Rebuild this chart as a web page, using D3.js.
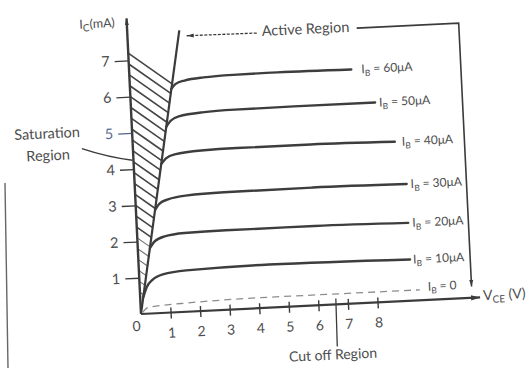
<!DOCTYPE html>
<html>
<head>
<meta charset="utf-8">
<script src="https://cdn.jsdelivr.net/npm/d3@7"></script>
<style>
  html, body { margin: 0; padding: 0; background: #fff; }
  svg { display: block; }
  text { font-family: Lato, "Open Sans", sans-serif; fill: #4d4d4d; }
</style>
</head>
<body>
<svg id="chart" width="529" height="368"></svg>
<script>
// Common-emitter transistor output characteristics: Ic (mA) against Vce (V)

const xTickValues = [1, 2, 3, 4, 5, 6, 7, 8];
const yTickValues = [1, 2, 3, 4, 5, 6, 7];

const ibLabels = ["60μA", "50μA", "40μA", "30μA", "20μA", "10μA"];

const vceIb60 = [1.39, 1.55, 1.85, 2.5, 3.5, 5.0, 7.5];
const icIb60  = [6.15, 6.29, 6.37, 6.43, 6.46, 6.47, 6.45];
const vceIb50 = [1.16, 1.32, 1.6, 2.4, 3.5, 5.5, 8.25];
const icIb50  = [5.12, 5.28, 5.39, 5.47, 5.50, 5.51, 5.51];
const vceIb40 = [0.93, 1.10, 1.4, 2.3, 3.5, 6.0, 8.85];
const icIb40  = [4.10, 4.25, 4.35, 4.42, 4.44, 4.44, 4.40];
const vceIb30 = [0.65, 0.80, 1.1, 1.7, 3.0, 6.0, 9.18];
const icIb30  = [2.85, 3.01, 3.12, 3.20, 3.24, 3.25, 3.22];
const vceIb20 = [0.41, 0.58, 0.9, 1.6, 3.0, 6.0, 9.17];
const icIb20  = [1.80, 1.98, 2.10, 2.17, 2.19, 2.19, 2.15];
const vceIb10 = [0.11, 0.25, 0.45, 0.8, 1.6, 4.4, 9.17];
const icIb10  = [0.47, 0.75, 0.93, 1.06, 1.14, 1.19, 1.14];

// leakage current with zero base current (cut-off)
const vceIb0 = [0.06, 0.25, 1.5, 4.4, 9.45];
const icIb0  = [0.04, 0.17, 0.24, 0.29, 0.29];

// saturation boundary (knee line) and the top edge of the hatched area
const satVce = [0, 1.76];
const satIc  = [0, 7.76];
const hatchEdgeVce = [0, 1.427];
const hatchEdgeIc  = [7.2, 6.295];
const hatchStep = 0.3;

const curves = [
  { label: ibLabels[0], vce: vceIb60, ic: icIb60, gap: 10 },
  { label: ibLabels[1], vce: vceIb50, ic: icIb50, gap: 4 },
  { label: ibLabels[2], vce: vceIb40, ic: icIb40, gap: 7 },
  { label: ibLabels[3], vce: vceIb30, ic: icIb30, gap: 4 },
  { label: ibLabels[4], vce: vceIb20, ic: icIb20, gap: 4 },
  { label: ibLabels[5], vce: vceIb10, ic: icIb10, gap: 3 }
].map(c => ({ label: c.label, gap: c.gap, pts: c.vce.map((v, i) => [v, c.ic[i]]) }));

const ink = "#3b3b3b";
const svg = d3.select("#chart");

// page border line at the left
svg.append("line")
  .attr("x1", 5).attr("y1", 183).attr("x2", 8).attr("y2", 368)
  .attr("stroke", "#666").attr("stroke-width", 1.4);

const defs = svg.append("defs");
defs.append("marker")
  .attr("id", "arrow").attr("viewBox", "0 0 10 6")
  .attr("refX", 10).attr("refY", 3)
  .attr("markerWidth", 9).attr("markerHeight", 6)
  .attr("markerUnits", "userSpaceOnUse").attr("orient", "auto")
  .append("path").attr("d", "M0,0 L10,3 L0,6 Z").attr("fill", ink);
defs.append("marker")
  .attr("id", "arrowSmall").attr("viewBox", "0 0 10 6")
  .attr("refX", 10).attr("refY", 3)
  .attr("markerWidth", 7).attr("markerHeight", 5)
  .attr("markerUnits", "userSpaceOnUse").attr("orient", "auto")
  .append("path").attr("d", "M0,0 L10,3 L0,6 Z").attr("fill", ink);

// plotting frame (origin at the axes corner, slightly tilted)
const plot = svg.append("g").attr("transform", "translate(141,314) rotate(-2.8)");

const xMax = 11.47, yMax = 8.16;
const x = d3.scaleLinear().domain([0, xMax]).range([0, 339.5]);
const y = d3.scaleLinear().domain([0, yMax]).range([0, -296]);

// hatched saturation region: strokes parallel to its top edge, y-axis to knee line
const satSlope = satIc[1] / satVce[1];
const hatchSlope = (hatchEdgeIc[0] - hatchEdgeIc[1]) / (hatchEdgeVce[1] - hatchEdgeVce[0]);
const hatch = plot.append("g");
d3.range(hatchEdgeIc[0], 0.5, -hatchStep).forEach((v, i) => {
  const xe = v / (satSlope + hatchSlope);
  hatch.append("line")
    .attr("x1", x(0)).attr("y1", y(v))
    .attr("x2", x(xe)).attr("y2", y(satSlope * xe))
    .attr("stroke-width", v < 2.3 ? 1.1 : 1.6)
    .attr("stroke", v < 2.3 ? "#707070" : "#454545");
});

// saturation boundary line
plot.append("line")
  .attr("x1", x(satVce[0])).attr("y1", y(satIc[0]))
  .attr("x2", x(satVce[1])).attr("y2", y(satIc[1]))
  .attr("stroke", ink).attr("stroke-width", 2.2);

// axes
const xAxis = d3.axisBottom(x).tickValues(xTickValues).tickSize(6).tickPadding(9).tickFormat(d3.format("d"));
const gx = plot.append("g").call(xAxis).attr("font-size", 14).attr("font-family", null);
gx.select(".domain").remove();
gx.selectAll(".tick line").attr("y1", -5).attr("stroke", ink).attr("stroke-width", 1.4);
gx.selectAll(".tick text").style("fill", "#4d4d4d");

const yAxis = d3.axisLeft(y).tickValues(yTickValues).tickSize(14).tickPadding(5).tickFormat(d3.format("d"));
const gy = plot.append("g").call(yAxis).attr("font-size", 14.5).attr("font-family", null);
gy.select(".domain").remove();
gy.selectAll(".tick line").attr("stroke", ink).attr("stroke-width", 1.3);
gy.selectAll(".tick text").style("fill", "#4d4d4d");
gy.selectAll(".tick").filter(d => d === 5).selectAll("line").attr("stroke", "#50648a");
gy.selectAll(".tick").filter(d => d === 5).selectAll("text").style("fill", "#5a6e94");

plot.append("line")
  .attr("x1", x(0)).attr("y1", y(0)).attr("x2", x(xMax)).attr("y2", y(0))
  .attr("stroke", ink).attr("stroke-width", 2.2).attr("marker-end", "url(#arrow)");
plot.append("line")
  .attr("x1", x(0)).attr("y1", y(0)).attr("x2", x(0)).attr("y2", y(yMax))
  .attr("stroke", ink).attr("stroke-width", 2.4).attr("marker-end", "url(#arrowSmall)");

plot.append("text").attr("x", -5).attr("y", 12).attr("dy", "0.35em")
  .attr("text-anchor", "middle").attr("font-size", 14).text("0");

// axis titles
const yTitle = plot.append("text").attr("x", -12).attr("y", -288)
  .attr("text-anchor", "end").attr("font-size", 12.5);
yTitle.append("tspan").text("I");
yTitle.append("tspan").attr("dy", 3).attr("font-size", 10).text("C");
yTitle.append("tspan").attr("dy", -3).text("(mA)");

const xTitle = plot.append("text").attr("x", x(xMax) + 3).attr("y", -2).attr("dy", "0.35em")
  .attr("font-size", 14);
xTitle.append("tspan").text("V");
xTitle.append("tspan").attr("dy", 3).attr("font-size", 10).text("CE");
xTitle.append("tspan").attr("dy", -3).text(" (V)");

// characteristic curves
const line = d3.line().x(d => x(d[0])).y(d => y(d[1])).curve(d3.curveMonotoneX);

plot.append("g").selectAll("path").data(curves).join("path")
  .attr("d", d => line(d.pts))
  .attr("fill", "none").attr("stroke", "#3d3d3d").attr("stroke-width", 2.4)
  .attr("stroke-linecap", "round");

const ib0 = vceIb0.map((v, i) => [v, icIb0[i]]);
plot.append("path").attr("d", line(ib0))
  .attr("fill", "none").attr("stroke", "#8c8c8c").attr("stroke-width", 1.3)
  .attr("stroke-dasharray", "7,5");

function ibLabel(px, py, value) {
  const t = plot.append("text").attr("x", px).attr("y", py).attr("dy", "0.35em")
    .attr("font-size", 12);
  t.append("tspan").text("I");
  t.append("tspan").attr("dy", 3).attr("font-size", 8.5).text("B");
  t.append("tspan").attr("dy", -3).text(" = " + value);
}
curves.forEach(c => {
  const last = c.pts[c.pts.length - 1];
  ibLabel(x(last[0]) + c.gap, y(last[1]), c.label);
});
ibLabel(x(vceIb0[vceIb0.length - 1]) + 8, y(icIb0[icIb0.length - 1]) - 3, "0");

// Active region annotation
plot.append("text").attr("x", x(4.54)).attr("y", y(7.49))
  .attr("font-size", 14.5).text("Active Region");
plot.append("line")
  .attr("x1", x(4.37)).attr("y1", y(7.58)).attr("x2", x(2.0)).attr("y2", y(7.6))
  .attr("stroke", ink).attr("stroke-width", 1.3).attr("stroke-dasharray", "3,1.5")
  .attr("marker-end", "url(#arrowSmall)");
plot.append("path")
  .attr("d", `M${x(7.75)},${y(7.58)} L${x(11.2)},${y(7.58)} L${x(11.2)},${y(0.31)}`)
  .attr("fill", "none").attr("stroke", ink).attr("stroke-width", 1.6)
  .attr("marker-end", "url(#arrowSmall)");

// Saturation region annotation
plot.append("text").attr("x", -85).attr("y", -185).attr("dy", "0.35em")
  .attr("text-anchor", "middle").attr("font-size", 14.5).text("Saturation");
plot.append("text").attr("x", -85).attr("y", -163).attr("dy", "0.35em")
  .attr("text-anchor", "middle").attr("font-size", 14.5).text("Region");
plot.append("path").attr("d", "M-51,-168 Q-25,-158 -1,-154")
  .attr("fill", "none").attr("stroke", ink).attr("stroke-width", 1.4);

// Cut off region annotation
plot.append("line")
  .attr("x1", x(6.6)).attr("y1", -6).attr("x2", x(6.57)).attr("y2", 42)
  .attr("stroke", ink).attr("stroke-width", 1.3);
plot.append("text").attr("x", x(6.41)).attr("y", 55)
  .attr("text-anchor", "middle").attr("font-size", 14).text("Cut off Region");
</script>
</body>
</html>
